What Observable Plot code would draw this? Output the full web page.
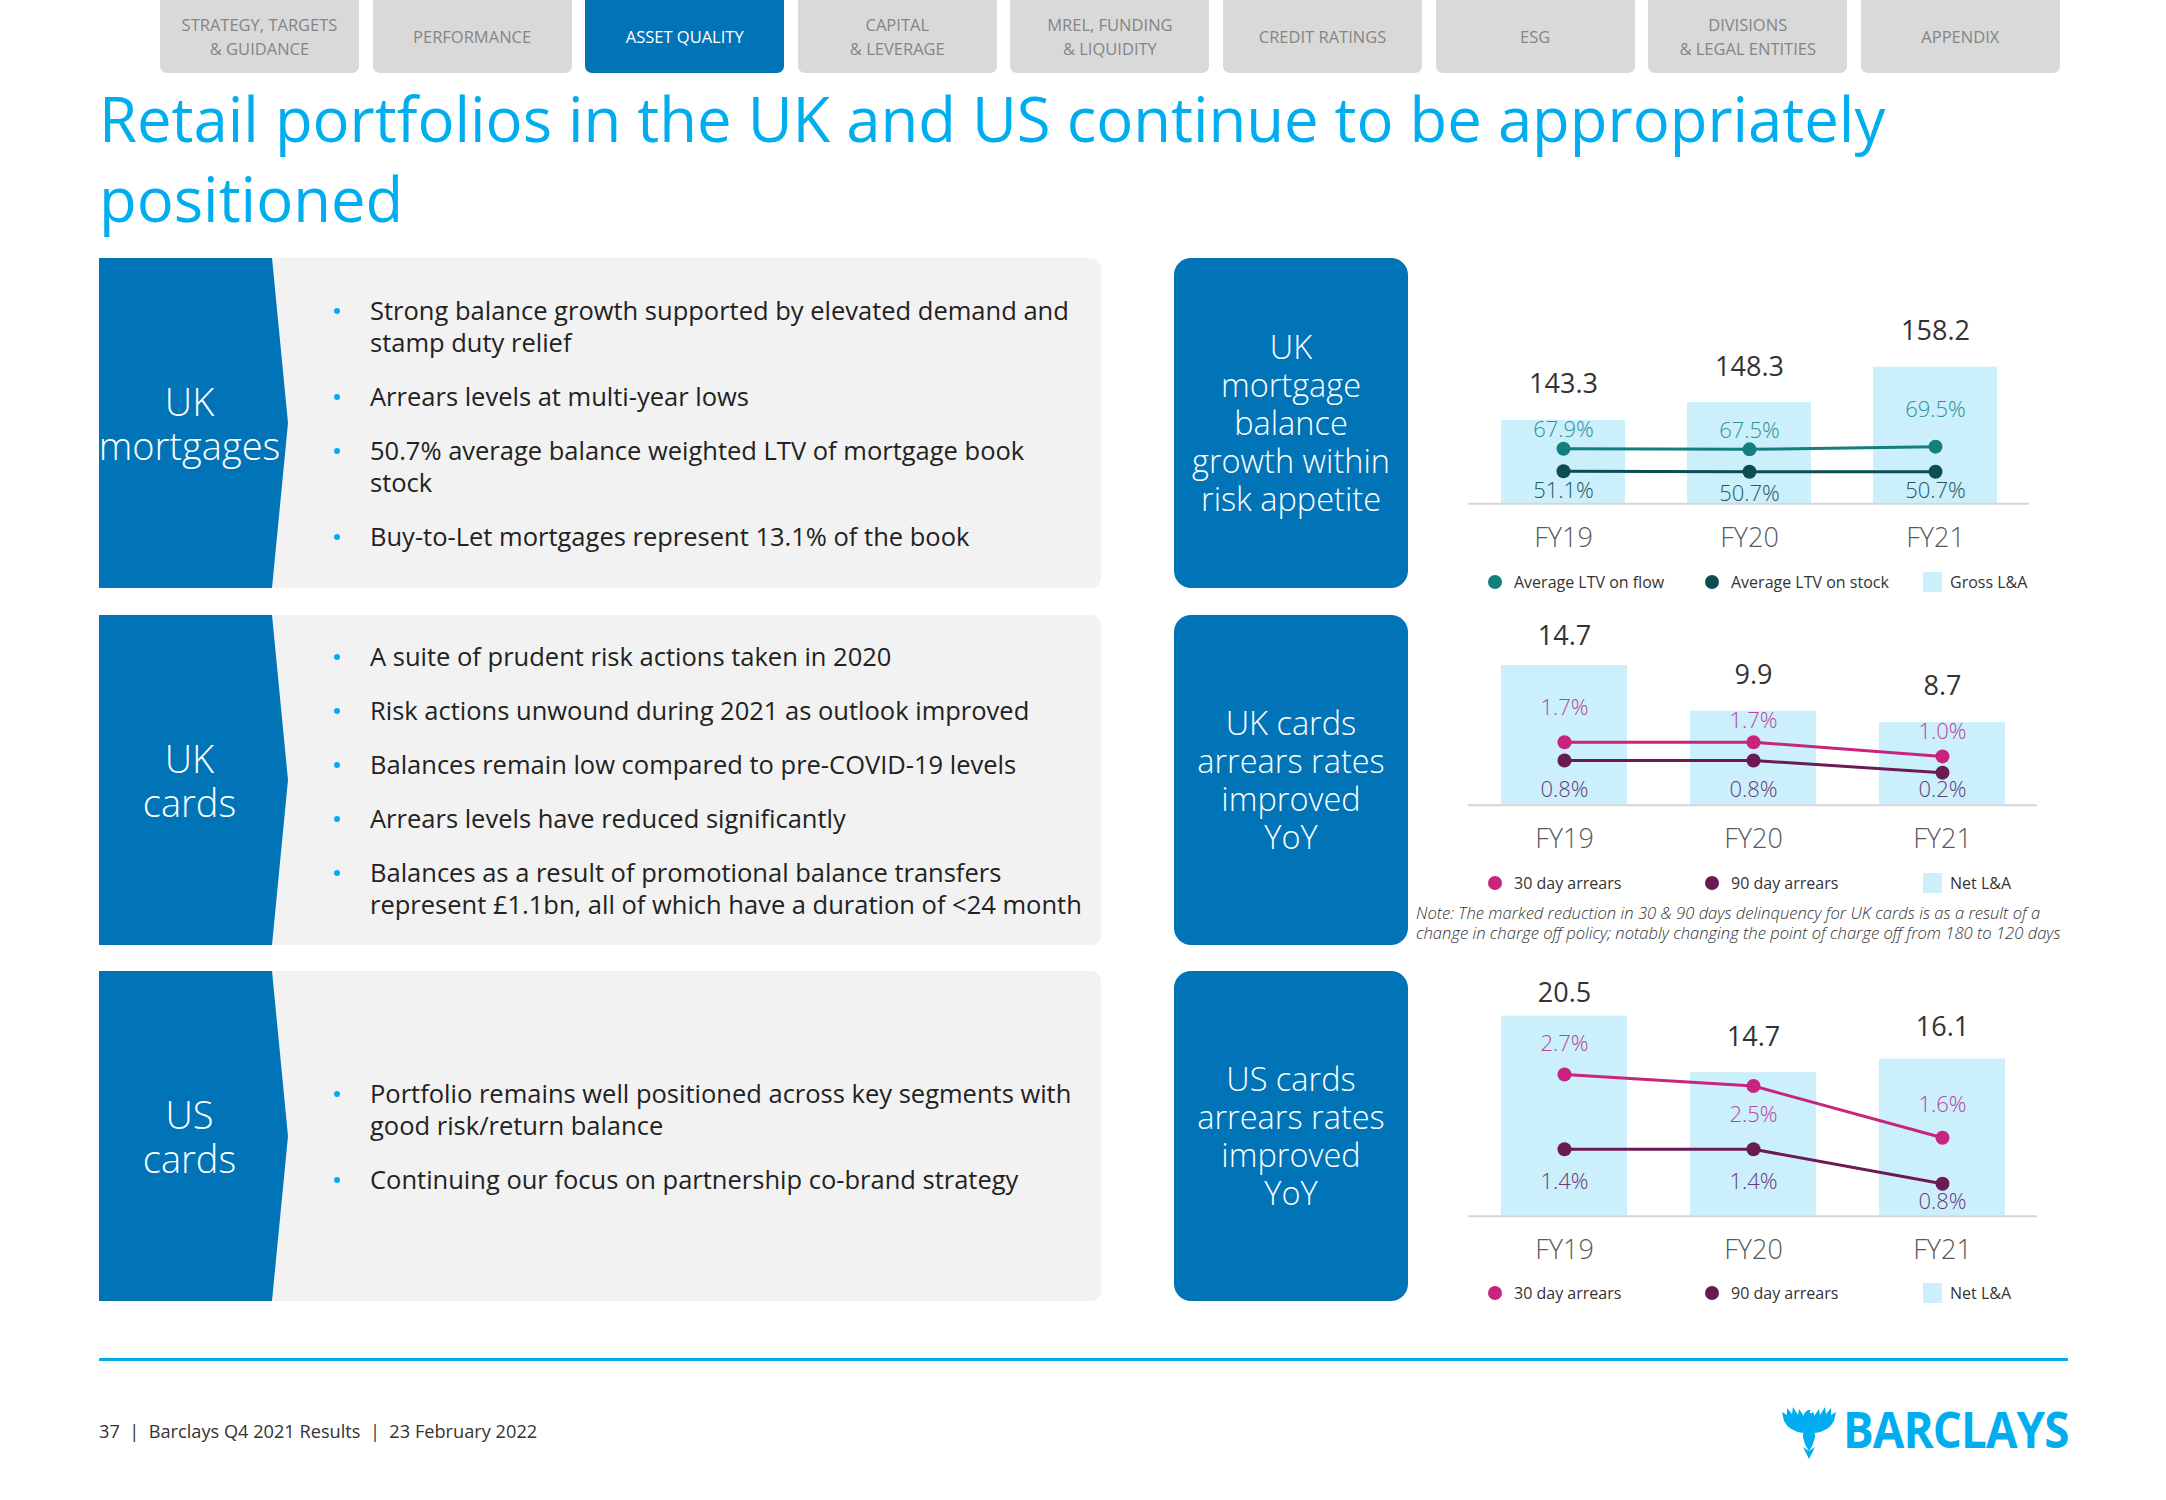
<!DOCTYPE html>
<html><head><meta charset="utf-8">
<script src="https://cdn.jsdelivr.net/npm/d3@7"></script>
<script src="https://cdn.jsdelivr.net/npm/@observablehq/plot@0.6"></script>
<style>
html,body{margin:0;padding:0;background:#fff;}
body{width:2166px;height:1500px;position:relative;overflow:hidden;font-family:"Open Sans",sans-serif;color:#222;}
.abs{position:absolute;}
.tab{position:absolute;top:0;height:73px;width:199px;background:#D9D9D9;border-radius:0 0 7px 7px;display:flex;align-items:center;justify-content:center;text-align:center;color:#858585;font-size:16.5px;line-height:24px;font-weight:400;white-space:pre-line;}
.tab.active{background:#0074B7;color:#fff;}
.title{left:99px;top:78px;font-size:61.6px;line-height:80px;color:#00AEEF;font-weight:400;white-space:nowrap;}
.panel{position:absolute;left:99px;width:1002px;height:330px;background:#F2F2F2;border-radius:0 10px 10px 0;}
.chev{position:absolute;left:0;top:0;width:190px;height:330px;background:#0074B7;clip-path:polygon(0 0,173px 0,189px 50%,173px 100%,0 100%);}
.plabel{position:absolute;left:0;top:0;width:181px;height:330px;display:flex;align-items:center;justify-content:center;text-align:center;color:#fff;font-size:38px;line-height:44px;font-weight:300;white-space:pre-line;}
.blist{position:absolute;left:271px;top:0;width:731px;height:330px;display:flex;flex-direction:column;justify-content:center;}
.item{position:relative;font-size:25.5px;line-height:32px;color:#222;font-weight:400;white-space:pre;margin-top:22px;}
.item:first-child{margin-top:0;}
.item .dot{position:absolute;left:-36px;top:14px;width:6px;height:6px;border-radius:50%;background:#00AEEF;}
.box{position:absolute;left:1174px;width:234px;height:330px;background:#0074B7;border-radius:17px;display:flex;align-items:center;justify-content:center;text-align:center;color:#fff;font-size:32.5px;line-height:38px;font-weight:300;white-space:pre-line;}
.leg{position:absolute;display:flex;align-items:center;height:20px;font-size:16px;color:#333;white-space:nowrap;}
.leg .c{width:14px;height:14px;border-radius:50%;margin-right:12px;}
.leg .s{width:19px;height:20px;margin-right:8px;}
.note{left:1416px;top:903px;font-size:16.6px;line-height:20px;font-style:italic;font-weight:300;color:#333;white-space:pre;}
.fline{left:99px;top:1358px;width:1969px;height:3px;background:#00AEEF;}
.foot{left:99px;top:1419px;font-size:18.2px;line-height:24px;color:#333;white-space:pre;font-weight:400;}
.logo{left:1843px;top:1404px;font-size:50px;line-height:50px;font-weight:700;color:#00AEEF;transform:scaleX(0.915);transform-origin:left center;white-space:nowrap;letter-spacing:-1px;}
</style></head>
<body>
<script>
// ---------- data ----------
const navTabs = ["STRATEGY, TARGETS\n& GUIDANCE","PERFORMANCE","ASSET QUALITY","CAPITAL\n& LEVERAGE","MREL, FUNDING\n& LIQUIDITY","CREDIT RATINGS","ESG","DIVISIONS\n& LEGAL ENTITIES","APPENDIX"];
const activeTab = "ASSET QUALITY";
const titleLines = ["Retail portfolios in the UK and US continue to be appropriately","positioned"];
const sectionLabels = ["UK\nmortgages","UK\ncards","US\ncards"];
const ukMortgageBullets = ["Strong balance growth supported by elevated demand and\nstamp duty relief","Arrears levels at multi-year lows","50.7% average balance weighted LTV of mortgage book\nstock","Buy-to-Let mortgages represent 13.1% of the book"];
const ukCardsBullets = ["A suite of prudent risk actions taken in 2020","Risk actions unwound during 2021 as outlook improved","Balances remain low compared to pre-COVID-19 levels","Arrears levels have reduced significantly","Balances as a result of promotional balance transfers\nrepresent £1.1bn, all of which have a duration of <24 month"];
const usCardsBullets = ["Portfolio remains well positioned across key segments with\ngood risk/return balance","Continuing our focus on partnership co-brand strategy"];
const boxTexts = ["UK\nmortgage\nbalance\ngrowth within\nrisk appetite","UK cards\narrears rates\nimproved\nYoY","US cards\narrears rates\nimproved\nYoY"];

const years = ["FY19","FY20","FY21"];
const ukMortgageGrossLA = [143.3, 148.3, 158.2];
const ukMortgageLtvFlow = [67.9, 67.5, 69.5];
const ukMortgageLtvStock = [51.1, 50.7, 50.7];
const ukCardsNetLA = [14.7, 9.9, 8.7];
const ukCards30Day = [1.7, 1.7, 1.0];
const ukCards90Day = [0.8, 0.8, 0.2];
const usCardsNetLA = [20.5, 14.7, 16.1];
const usCards30Day = [2.7, 2.5, 1.6];
const usCards90Day = [1.4, 1.4, 0.8];

const mortgageLegend = ["Average LTV on flow","Average LTV on stock","Gross L&A"];
const cardsLegend = ["30 day arrears","90 day arrears","Net L&A"];
const noteText = "Note: The marked reduction in 30 & 90 days delinquency for UK cards is as a result of a\nchange in charge off policy; notably changing the point of charge off from 180 to 120 days";
const footerText = "37  |  Barclays Q4 2021 Results  |  23 February 2022";

// ---------- styles ----------
const C = {bar:"#CCEFFC", axis:"#D6D6D6", flow:"#157F80", stock:"#0B4D53", flowLbl:"#2E9194", stockLbl:"#1E5A61",
  d30:"#C8237F", d90:"#6A1B54", d30Lbl:"#B8479E", d90Lbl:"#6A3A78"};

const body = document.body;
function el(cls, css, html){const d=document.createElement("div");d.className=cls;if(css)Object.assign(d.style,css);if(html!==undefined)d.textContent=html;body.appendChild(d);return d;}

// nav tabs
navTabs.forEach((t,i)=>{el("tab"+(t===activeTab?" active":""),{left:(160+i*212.6)+"px"},t);});
// title
const ti=el("abs title");ti.innerHTML=titleLines.join("<br>");

// left panels
const panelTops=[258,615,971];
[ukMortgageBullets,ukCardsBullets,usCardsBullets].forEach((bl,k)=>{
  const p=el("panel",{top:panelTops[k]+"px"});
  const ch=document.createElement("div");ch.className="chev";p.appendChild(ch);
  const lb=document.createElement("div");lb.className="plabel";lb.textContent=sectionLabels[k];p.appendChild(lb);
  const list=document.createElement("div");list.className="blist";p.appendChild(list);
  bl.forEach(b=>{const it=document.createElement("div");it.className="item";const dt=document.createElement("span");dt.className="dot";it.appendChild(dt);it.appendChild(document.createTextNode(b));list.appendChild(it);});
  el("box",{top:panelTops[k]+"px"},boxTexts[k]);
});

// ---------- charts ----------
const pct=v=>v.toFixed(1)+"%";
function drawChart(cfg){
  const rows=years.map((year,i)=>({year,i,bar:cfg.bars[i],a:cfg.lineA[i],b:cfg.lineB[i]}));
  const xScale={type:"band",domain:years,paddingInner:0.335,paddingOuter:0.17,align:0.5,label:null};
  const base={width:cfg.width,height:cfg.height,marginLeft:40,marginRight:40,marginTop:0,marginBottom:cfg.marginBottom,
    style:{fontFamily:"'Open Sans', sans-serif",color:"#595959",background:"transparent",overflow:"visible",position:"absolute",left:"0px",top:"0px"}};
  const wrap=el("abs",{left:cfg.left+"px",top:cfg.top+"px",width:cfg.width+"px",height:cfg.height+"px"});
  const barsPlot=Plot.plot({...base,x:{...xScale},y:{domain:cfg.barDomain,axis:null},
    marks:[
      Plot.barY(rows,{x:"year",y1:()=>cfg.barBase,y2:"bar",fill:C.bar}),
      Plot.ruleY([cfg.barBase],{stroke:C.axis,strokeWidth:2}),
      Plot.axisX({tickSize:0,tickPadding:24,fontSize:27,fontWeight:300,label:null}),
      ...rows.map((r,k)=>Plot.text([r],{x:"year",y:"bar",text:d=>d.bar.toFixed(1),lineAnchor:"bottom",dy:cfg.barDy[k],fontSize:27,fill:"#333"}))
    ]});
  const linesPlot=Plot.plot({...base,x:{...xScale,axis:null},y:{domain:cfg.pctDomain,axis:null},
    marks:[
      Plot.line(rows,{x:"year",y:"a",stroke:cfg.colA,strokeWidth:3}),
      Plot.line(rows,{x:"year",y:"b",stroke:cfg.colB,strokeWidth:3}),
      Plot.dot(rows,{x:"year",y:"a",r:7,fill:cfg.colA}),
      Plot.dot(rows,{x:"year",y:"b",r:7,fill:cfg.colB}),
      ...rows.map((r,k)=>Plot.text([r],{x:"year",y:"a",text:d=>pct(d.a),lineAnchor:"bottom",dy:cfg.aDy[k],fontSize:22,fontWeight:300,fill:cfg.lblA})),
      ...rows.map((r,k)=>Plot.text([r],{x:"year",y:"b",text:d=>pct(d.b),lineAnchor:"bottom",dy:cfg.bDy[k],fontSize:22,fontWeight:300,fill:cfg.lblB}))
    ]});
  wrap.appendChild(barsPlot);wrap.appendChild(linesPlot);
  // legend
  const lx=[1488,1705,1923];
  cfg.legend.forEach((t,i)=>{
    const L=el("leg",{left:lx[i]+"px",top:(cfg.legendY-10)+"px"});
    const sw=document.createElement("span");
    if(i<2){sw.className="c";sw.style.background=i===0?cfg.colA:cfg.colB;}else{sw.className="s";sw.style.background=C.bar;}
    L.appendChild(sw);L.appendChild(document.createTextNode(t));
  });
}

drawChart({left:1428,top:300,width:641,height:270,marginBottom:66.7,
  bars:ukMortgageGrossLA,lineA:ukMortgageLtvFlow,lineB:ukMortgageLtvStock,
  barBase:120,barDomain:[120,176.8],pctDomain:[26.64,179.15],
  barDy:[-27,-27,-27],aDy:[-11.6,-11.8,-29.3],bDy:[26.6,29.3,26.6],
  colA:C.flow,colB:C.stock,lblA:C.flowLbl,lblB:C.stockLbl,legend:mortgageLegend,legendY:581.7});

drawChart({left:1428,top:600,width:649,height:270,marginBottom:65.3,
  bars:ukCardsNetLA,lineA:ukCards30Day,lineB:ukCards90Day,
  barBase:0,barDomain:[0,21.55],pctDomain:[-1.404,8.68],
  barDy:[-21,-26.7,-28],aDy:[-26.7,-14.4,-17.4],bDy:[36.7,36.7,24],
  colA:C.d30,colB:C.d90,lblA:C.d30Lbl,lblB:C.d90Lbl,legend:cardsLegend,legendY:882.7});

drawChart({left:1428,top:950,width:649,height:332,marginBottom:66.3,
  bars:usCardsNetLA,lineA:usCards30Day,lineB:usCards90Day,
  barBase:0,barDomain:[0,27.22],pctDomain:[0.2365,4.857],
  barDy:[-14.3,-26.3,-22.6],aDy:[-24,35.7,-25.6],bDy:[39.3,39.3,25.7],
  colA:C.d30,colB:C.d90,lblA:C.d30Lbl,lblB:C.d90Lbl,legend:cardsLegend,legendY:1293.3});

el("abs note",null,noteText);

// footer
el("abs fline");
el("abs foot",null,footerText);
el("abs logo",null,"BARCLAYS");
const eagle=document.createElementNS("http://www.w3.org/2000/svg","svg");
eagle.setAttribute("width","54");eagle.setAttribute("height","56");eagle.setAttribute("viewBox","0 0 54 56");
Object.assign(eagle.style,{position:"absolute",left:"1782px",top:"1403px"});
eagle.innerHTML='<g fill="#00AEEF"><path d="M24 16 L17 6 L16 12 L11 4 L10 11 L5 5 L5 12 L0 9 L2 18 Q7 28 21 30 Z"/><path d="M30 16 L37 6 L38 12 L43 4 L44 11 L49 5 L49 12 L54 9 L52 18 Q47 28 33 30 Z"/><path d="M22 11 Q27 3 32 11 L33 34 Q31 43 27 48 Q23 43 21 34 Z"/><path d="M21 44 L27 56 L33 44 L27 48 Z"/></g><circle cx="29" cy="9" r="1.3" fill="#fff"/>';
body.appendChild(eagle);
</script>
</body></html>
